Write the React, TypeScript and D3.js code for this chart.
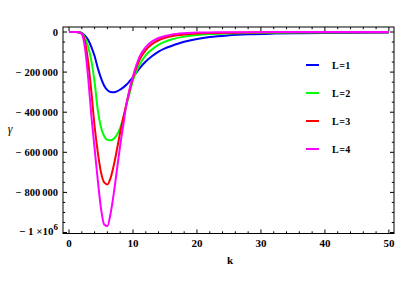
import React from "react";
import * as d3 from "d3";

const kValues = [0, 1, 1.5, 2, 2.5, 3, 3.5, 4, 4.5, 5, 5.5, 6, 6.5, 7, 7.5, 8, 8.5, 9, 9.5, 10, 11, 12, 13, 14, 15, 16, 18, 20, 22, 25, 28, 32, 36, 40, 45, 50];

const seriesL1 = [0, 0, -1000, -5000, -18000, -40000, -75000, -120000, -180000, -230000, -268000, -290000, -299000, -300000, -296000, -287000, -276000, -262000, -244000, -225000, -182000, -147000, -120000, -98000, -82000, -70000, -49000, -35000, -25000, -16500, -11500, -8000, -6000, -4500, -3300, -2500];
const seriesL2 = [0, 0, -1000, -6000, -30000, -75000, -145000, -250000, -390000, -475000, -520000, -538000, -540000, -532000, -512000, -478000, -425000, -362000, -300000, -240000, -165000, -115000, -86000, -64000, -48000, -37000, -23000, -15500, -10500, -7000, -5000, -3500, -2500, -2000, -1500, -1000];
const seriesL3 = [0, 0, -1000, -8000, -50000, -150000, -300000, -470000, -600000, -700000, -750000, -760000, -728000, -665000, -585000, -500000, -425000, -355000, -288000, -228000, -140000, -90000, -60000, -41000, -29000, -21000, -12000, -8000, -5500, -3500, -2500, -1800, -1300, -1000, -800, -600];
const seriesL4 = [0, 0, -1000, -10000, -80000, -230000, -420000, -580000, -740000, -880000, -960000, -968000, -905000, -805000, -685000, -565000, -460000, -355000, -280000, -220000, -125000, -75000, -47000, -30000, -20000, -13000, -6000, -3000, -2000, -1200, -800, -500, -300, -200, -100, -100];

const seriesNames = ["L=1", "L=2", "L=3", "L=4"];
const seriesColors = ["#0000ff", "#00ff00", "#ff0000", "#ff00ff"];
const allSeries = [seriesL1, seriesL2, seriesL3, seriesL4];

const xMajorTicks = [0, 10, 20, 30, 40, 50];
const xMinorTicks = d3.range(0, 51, 2).filter((v) => v % 10 !== 0);
const yMajorTicks = [0, -200000, -400000, -600000, -800000, -1000000];
const yMajorLabels = ["0", "\u2212 200\u2009000", "\u2212 400\u2009000", "\u2212 600\u2009000", "\u2212 800\u2009000", ""];
const yMinorTicks = d3.range(0, -1000001, -50000).filter((v) => v % 200000 !== 0);

export default function App() {
  const W = 400;
  const H = 300;
  const left = 63, right = 394, top = 27, bottom = 233.5;
  const x = d3.scaleLinear().domain([-0.94, 50.8]).range([left, right]);
  const y = d3.scaleLinear().domain([-1005000, 25000]).range([bottom, top]);

  const line = d3
    .line<number>()
    .x((_, i) => x(kValues[i]))
    .y((d) => y(d))
    .curve(d3.curveMonotoneX);

  const font = "'Liberation Serif', 'Times New Roman', serif";
  const major = 4;
  const minor = 2.2;

  return (
    <svg width={W} height={H} style={{ position: "absolute", left: 0, top: 0, background: "#fff" }}>
      <defs>
        <clipPath id="plotclip">
          <rect x={left} y={top} width={right - left} height={bottom - top} />
        </clipPath>
      </defs>
      <g clipPath="url(#plotclip)">
        {allSeries.map((s, i) => (
          <path key={i} d={line(s) || ""} fill="none" stroke={seriesColors[i]} strokeWidth={2} strokeLinejoin="round" />
        ))}
      </g>
      <rect x={left} y={top} width={right - left} height={bottom - top} fill="none" stroke="#000" strokeWidth={1} />
      {xMajorTicks.map((t) => (
        <g key={"xm" + t}>
          <line x1={x(t)} x2={x(t)} y1={bottom} y2={bottom - major} stroke="#000" />
          <line x1={x(t)} x2={x(t)} y1={top} y2={top + major} stroke="#000" />
          <text x={x(t)} y={247} textAnchor="middle" fontFamily={font} fontWeight="bold" fontSize={11}>
            {t}
          </text>
        </g>
      ))}
      {xMinorTicks.map((t) => (
        <g key={"xn" + t}>
          <line x1={x(t)} x2={x(t)} y1={bottom} y2={bottom - minor} stroke="#000" />
          <line x1={x(t)} x2={x(t)} y1={top} y2={top + minor} stroke="#000" />
        </g>
      ))}
      {yMajorTicks.map((t, i) => (
        <g key={"ym" + t}>
          <line x1={left} x2={left + major} y1={y(t)} y2={y(t)} stroke="#000" />
          <line x1={right} x2={right - major} y1={y(t)} y2={y(t)} stroke="#000" />
          {yMajorLabels[i] !== "" ? (
            <text x={58} y={y(t) + 3.5} textAnchor="end" fontFamily={font} fontWeight="bold" fontSize={10.5}>
              {yMajorLabels[i]}
            </text>
          ) : (
            <text x={58} y={y(t) + 3} textAnchor="end" fontFamily={font} fontWeight="bold" fontSize={11}>
              {"\u2212 1 \u00d710"}
              <tspan dy={-5} fontSize={9}>6</tspan>
            </text>
          )}
        </g>
      ))}
      {yMinorTicks.map((t) => (
        <g key={"yn" + t}>
          <line x1={left} x2={left + minor} y1={y(t)} y2={y(t)} stroke="#000" />
          <line x1={right} x2={right - minor} y1={y(t)} y2={y(t)} stroke="#000" />
        </g>
      ))}
      <text x={230} y={264} textAnchor="middle" fontFamily={font} fontWeight="bold" fontSize={11}>
        k
      </text>
      <text x={10} y={133} textAnchor="middle" fontFamily={font} fontStyle="italic" fontSize={12}>
        γ
      </text>
      {seriesNames.map((n, i) => {
        const ly = 65 + i * 28;
        return (
          <g key={n}>
            <line x1={306} x2={319} y1={ly} y2={ly} stroke={seriesColors[i]} strokeWidth={2} />
            <text x={332} y={ly + 3.5} fontFamily={font} fontWeight="bold" fontSize={10} letterSpacing={0.5}>
              {n}
            </text>
          </g>
        );
      })}
    </svg>
  );
}
